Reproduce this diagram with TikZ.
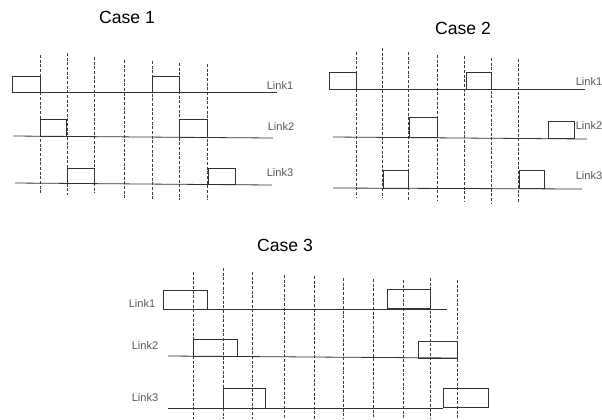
\documentclass[tikz,border=0pt]{standalone}
\usepackage{fontspec}
\setmainfont{Liberation Sans}
\begin{document}
\begin{tikzpicture}[x=0.75pt,y=-0.75pt,
  sig/.style={draw=black!80,line width=0.6pt},
  pkt/.style={draw=black!80,line width=0.7pt},
  slot/.style={draw=black!75,line width=0.6pt,dash pattern=on 2.2pt off 1.3pt},
  casetitle/.style={font=\fontsize{13.2}{15}\selectfont},
  lab/.style={font=\fontsize{8.3}{9}\selectfont,text=black!65,inner sep=0pt}]
\useasboundingbox (0,0) rectangle (602,419);

% ---------------- Case 1 ----------------
\node[casetitle] (t1) at (127,17) {Case 1};
\foreach \x/\t/\b in {40/55/193,67/53/195,94/57/193,124/60/200,152/61/200,179/63/200,207/64/200}
  \draw[slot] (\x,\t) -- (\x,\b);
\coordinate (a1s) at (12,92);  \coordinate (a1e) at (277,92);
\draw[sig] (a1s) -- (a1e);
\draw[pkt] (12,92) rectangle (40,76);
\draw[pkt] (152,92) rectangle (179,76);
\node[lab] (a1) at (280,85) {Link1};
\coordinate (a2s) at (13,136); \coordinate (a2e) at (273,138);
\draw[sig] (a2s) -- (a2e);
\draw[pkt] (40,136.4) rectangle (66,119);
\draw[pkt] (179,137.3) rectangle (207,119);
\node[lab] (a2) at (281,126) {Link2};
\coordinate (a3s) at (15,183); \coordinate (a3e) at (272,185);
\draw[sig] (a3s) -- (a3e);
\draw[pkt] (67,183.4) rectangle (94,168);
\draw[pkt] (208,184.3) rectangle (235,168);
\node[lab] (a3) at (280,173) {Link3};

% ---------------- Case 2 ----------------
\node[casetitle] (t2) at (463,28) {Case 2};
\foreach \x/\t/\b in {356/52/197,382/48/198,408/52/201,437/55/201,464/56/201,491/58/203,518/59/203}
  \draw[slot] (\x,\t) -- (\x,\b);
\coordinate (b1s) at (329,89); \coordinate (b1e) at (585,89);
\draw[sig] (b1s) -- (b1e);
\draw[pkt] (329,89) rectangle (356,72);
\draw[pkt] (466,89) rectangle (491,72);
\node[lab] (b1) at (589,81) {Link1};
\coordinate (b2s) at (333,137); \coordinate (b2e) at (587,139);
\draw[sig] (b2s) -- (b2e);
\draw[pkt] (409,137.6) rectangle (437,117);
\draw[pkt] (548,138.6) rectangle (574,121);
\node[lab] (b2) at (589,125) {Link2};
\coordinate (b3s) at (333,188); \coordinate (b3e) at (582,189);
\draw[sig] (b3s) -- (b3e);
\draw[pkt] (383,188.2) rectangle (408,170);
\draw[pkt] (519,188.7) rectangle (544,170);
\node[lab] (b3) at (589,176) {Link3};

% ---------------- Case 3 ----------------
\node[casetitle] (t3) at (285,245) {Case 3};
\foreach \x/\t in {193/272,223/268,252/272,284/275,314/276,343/278,373/279,403/280,430/278,457/280}
  \draw[slot] (\x,\t) -- (\x,419);
\coordinate (c1s) at (164,309); \coordinate (c1e) at (447,309);
\draw[sig] (c1s) -- (c1e);
\draw[pkt] (163,309) rectangle (207,290);
\draw[pkt] (387,308.5) rectangle (430,289);
\node[lab] (c1) at (142,303) {Link1};
\coordinate (c2s) at (168,356); \coordinate (c2e) at (457,358);
\draw[sig] (c2s) -- (c2e);
\draw[pkt] (193,356.2) rectangle (237,339);
\draw[pkt] (418,358) rectangle (457,341);
\node[lab] (c2) at (145,345) {Link2};
\coordinate (c3s) at (168,408); \coordinate (c3e) at (443,408);
\draw[sig] (c3s) -- (c3e);
\draw[pkt] (223,408) rectangle (265,388);
\draw[pkt] (443,407) rectangle (488,388);
\node[lab] (c3) at (145,398) {Link3};
\end{tikzpicture}
\end{document}
